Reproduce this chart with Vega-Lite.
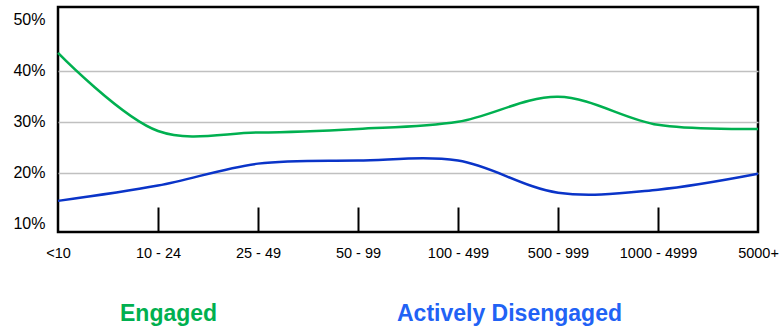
{
  "$schema": "https://vega.github.io/schema/vega-lite/v6.json",
  "width": 700,
  "height": 225,
  "autosize": "none",
  "padding": {"left": 58, "top": 7, "right": 25, "bottom": 97},
  "background": "white",
  "config": {"view": {"stroke": "black", "strokeWidth": 2.5}, "font": "Liberation Sans"},
  "data": {"values": [
    {"size": "<10", "series": "Engaged", "pct": 43.5},
    {"size": "10 - 24", "series": "Engaged", "pct": 28.2},
    {"size": "25 - 49", "series": "Engaged", "pct": 27.9},
    {"size": "50 - 99", "series": "Engaged", "pct": 28.6},
    {"size": "100 - 499", "series": "Engaged", "pct": 30.0},
    {"size": "500 - 999", "series": "Engaged", "pct": 34.9},
    {"size": "1000 - 4999", "series": "Engaged", "pct": 29.4},
    {"size": "5000+", "series": "Engaged", "pct": 28.6},
    {"size": "<10", "series": "Actively Disengaged", "pct": 14.5},
    {"size": "10 - 24", "series": "Actively Disengaged", "pct": 17.5},
    {"size": "25 - 49", "series": "Actively Disengaged", "pct": 21.8},
    {"size": "50 - 99", "series": "Actively Disengaged", "pct": 22.4},
    {"size": "100 - 499", "series": "Actively Disengaged", "pct": 22.4},
    {"size": "500 - 999", "series": "Actively Disengaged", "pct": 16.1},
    {"size": "1000 - 4999", "series": "Actively Disengaged", "pct": 16.7},
    {"size": "5000+", "series": "Actively Disengaged", "pct": 19.8}
  ]},
  "mark": {"type": "line", "interpolate": "catmull-rom", "strokeWidth": 2.5},
  "encoding": {
    "x": {
      "field": "size", "type": "ordinal",
      "sort": ["<10", "10 - 24", "25 - 49", "50 - 99", "100 - 499", "500 - 999", "1000 - 4999", "5000+"],
      "scale": {"type": "point", "padding": 0},
      "axis": {
        "title": null, "domain": false, "labelAngle": 0,
        "labelFont": "Liberation Sans", "labelFontSize": 14.5, "labelColor": "black",
        "tickColor": "black", "tickWidth": 2, "tickSize": -25,
        "tickOpacity": {"expr": "datum.value == '<10' || datum.value == '5000+' ? 0 : 1"},
        "labelPadding": 39
      }
    },
    "y": {
      "field": "pct", "type": "quantitative",
      "scale": {"domain": [8.4, 52.5], "nice": false, "zero": false},
      "axis": {
        "title": null, "domain": false, "ticks": false,
        "values": [10, 20, 30, 40, 50],
        "labelExpr": "datum.value + '%'",
        "labelFont": "Liberation Sans", "labelFontSize": 16, "labelColor": "black", "labelPadding": 13,
        "gridColor": "#c0c0c0", "gridWidth": 1.5,
        "gridOpacity": {"expr": "datum.value == 10 || datum.value == 50 ? 0 : 1"}
      }
    },
    "color": {
      "field": "series", "type": "nominal",
      "scale": {"domain": ["Engaged", "Actively Disengaged"], "range": ["#00b050", "#0a34c8"]},
      "legend": {
        "title": null, "orient": "none", "legendX": 39, "legendY": 295,
        "direction": "horizontal", "symbolSize": 0, "symbolStrokeWidth": 0, "symbolOpacity": 0,
        "labelOffset": 0, "columnPadding": 156,
        "labelFont": "Liberation Sans", "labelFontSize": 23, "labelFontWeight": "bold", "labelLimit": 400,
        "encode": {"labels": {"update": {"fill": {"signal": "datum.value == 'Engaged' ? '#00b050' : '#2162f5'"}}}}
      }
    }
  }
}
